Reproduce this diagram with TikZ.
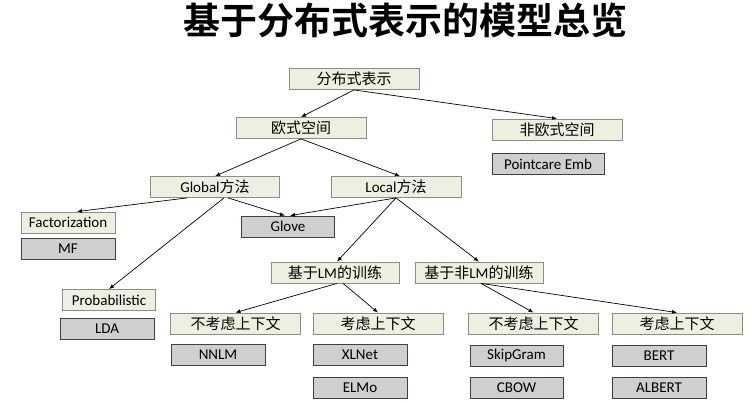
\documentclass[tikz,border=0pt]{standalone}
\usepackage{fontspec}
\setmainfont{Carlito}
\newfontfamily\cjk[BoldFont={Noto Sans CJK SC Bold}]{Noto Sans CJK SC}
\usetikzlibrary{arrows.meta}
\definecolor{boxgreen}{HTML}{EBF1DE}
\definecolor{boxgray}{HTML}{D0CECE}
\newcommand{\zh}[1]{{\cjk #1}}

\begin{document}
\begin{tikzpicture}[x=1pt, y=-1pt, font=\fontsize{15}{17}\selectfont]
        \tikzstyle{every node}=[inner sep=0pt, minimum height=21pt, text=black]
        \tikzstyle{cat}=[draw=black!45, fill=boxgreen, line width=0.8pt, minimum width=130pt]
        \tikzstyle{model}=[draw=black!75, fill=boxgray, line width=0.8pt, minimum width=94pt]
        \tikzstyle{link}=[-{Latex[length=5pt,width=4pt]}, line width=0.7pt]
        \useasboundingbox (0,0) rectangle (752,402);
        \node [minimum height=0pt, font=\fontsize{37}{40}\selectfont] (title) at (405,20) {\cjk\bfseries 基于分布式表示的模型总览};
        \node [cat] (dist) at (354,79) {\zh{分布式表示}};
        \node [cat] (euc) at (301,128) {\zh{欧式空间}};
        \node [cat] (noneuc) at (557,129.5) {\zh{非欧式空间}};
        \node [model, minimum width=112pt] (poinc) at (548,164) {Pointcare Emb};
        \node [cat, minimum width=129pt] (glob) at (215,187) {Global\zh{方法}};
        \node [cat] (loc) at (396,187) {Local\zh{方法}};
        \node [cat, minimum width=94pt] (fact) at (68,222.5) {Factorization};
        \node [model] (mf) at (68,248.5) {MF};
        \node [model, minimum width=93pt] (glove) at (288,226.5) {Glove};
        \node [cat, minimum width=128pt] (lm) at (335,272.5) {\zh{基于}LM\zh{的训练}};
        \node [cat, minimum width=128pt] (nonlm) at (479,272.5) {\zh{基于非}LM\zh{的训练}};
        \node [cat, minimum width=93pt] (prob) at (109,300) {Probabilistic};
        \node [model] (lda) at (107,328.5) {LDA};
        \node [cat] (lmnoctx) at (235.5,323.5) {\zh{不考虑上下文}};
        \node [cat] (lmctx) at (378,323.5) {\zh{考虑上下文}};
        \node [model] (nnlm) at (218,355) {NNLM};
        \node [model] (xlnet) at (360,355) {XLNet};
        \node [model] (elmo) at (360,387.5) {ELMo};
        \node [cat] (nlmnoctx) at (533.5,323.5) {\zh{不考虑上下文}};
        \node [cat] (nlmctx) at (677,323.5) {\zh{考虑上下文}};
        \node [model, minimum width=93pt] (skip) at (516.5,355.5) {SkipGram};
        \node [model, minimum width=93pt] (cbow) at (516.5,387.5) {CBOW};
        \node [model] (bert) at (659,355.5) {BERT};
        \node [model] (albert) at (659,387.5) {ALBERT};
        \draw [link] (dist.south) -- (euc.north);
        \draw [link] (dist.south) -- (noneuc.north);
        \draw [link] (euc.south) -- (glob.north);
        \draw [link] (euc.south) -- ([xshift=4pt]loc.north);
        \draw [link] ([xshift=-28pt]glob.south) -- ([xshift=9pt]fact.north);
        \draw [link] ([xshift=9pt]glob.south) -- (prob.north);
        \draw [link] ([xshift=13pt]glob.south) -- ([xshift=-3pt]glove.north);
        \draw [link] (loc.south) -- ([xshift=2pt]glove.north);
        \draw [link] (loc.south) -- ([xshift=2pt]lm.north);
        \draw [link] (loc.south) -- (nonlm.north);
        \draw [link] ([xshift=2pt]lm.south) -- (lmnoctx.north);
        \draw [link] ([xshift=8pt]lm.south) -- (lmctx.north);
        \draw [link] ([xshift=2pt]nonlm.south) -- (nlmnoctx.north);
        \draw [link] ([xshift=2pt]nonlm.south) -- (nlmctx.north);
    \end{tikzpicture}
\end{document}
